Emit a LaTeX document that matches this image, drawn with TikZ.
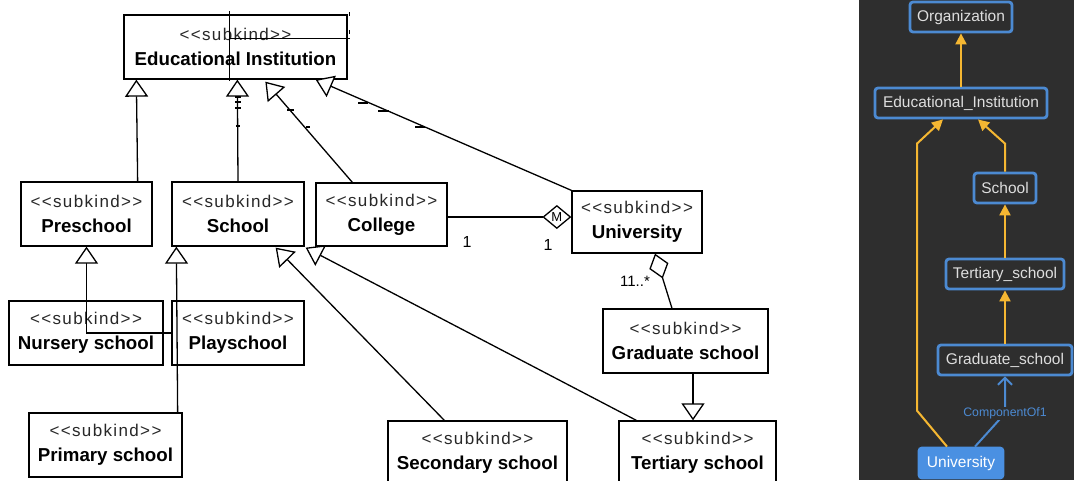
\documentclass[tikz,border=0pt]{standalone}
\usepackage{fontspec}
\setmainfont{Liberation Sans}
\newfontfamily\stereofont[LetterSpace=8]{Liberation Sans}
\usetikzlibrary{arrows.meta,calc}
\definecolor{panelbg}{RGB}{46,46,46}
\definecolor{nodeblue}{RGB}{76,138,210}
\definecolor{unifill}{RGB}{74,144,226}
\definecolor{linkyellow}{RGB}{245,183,50}
\definecolor{lighttext}{RGB}{222,222,222}
\definecolor{stereogray}{RGB}{40,40,40}
\newcommand{\umltext}[1]{{\stereofont\fontsize{17}{25}\selectfont\color{stereogray}<<subkind>>}\\{\bfseries #1}}
\begin{document}
\begin{tikzpicture}[x=1pt,y=-1pt,
  umlbox/.style={draw=black, line width=1.3pt, fill=white, inner sep=0pt, align=center,
    font=\fontsize{18.7}{25}\selectfont},
  gen/.style={line width=1.3pt, -{Triangle[fill=white, length=17pt, width=23pt]}},
  agg/.style args={#1/#2}{line width=1.3pt, -{Diamond[fill=white, length=#1, width=#2]}},
  mult/.style={font=\fontsize{16}{18}\selectfont, inner sep=0pt},
  tick/.style={line width=1.6pt},
  rbox/.style={draw=nodeblue, line width=2.8pt, rounded corners=3pt, fill=panelbg, text=lighttext,
    inner sep=0pt, font=\fontsize{15.5}{17}\selectfont, minimum height=30pt},
  ylink/.style={draw=linkyellow, line width=2pt, -{Triangle[length=11pt, width=11pt]}},
  blink/.style={draw=nodeblue, line width=2pt, -{Straight Barb[length=7pt, width=14pt, line width=2pt]}}
]
\useasboundingbox (0,0) rectangle (1074,480);
\clip (0,0) rectangle (1074,480);
\fill[white] (0,0) rectangle (859,480);
\fill[panelbg] (859,0) rectangle (1074,480);

% ---------- left UML diagram ----------
\node[umlbox, minimum width=223pt, minimum height=64pt] (ei) at (235.5,47) {\umltext{Educational Institution}};
\node[umlbox, minimum width=131pt, minimum height=64pt] (pre) at (86.5,214) {\umltext{Preschool}};
\node[umlbox, minimum width=132pt, minimum height=64pt] (sch) at (238,214) {\umltext{School}};
\node[umlbox, minimum width=131pt, minimum height=63pt] (col) at (381.5,214.5) {\umltext{College}};
\node[umlbox, minimum width=130pt, minimum height=62pt] (uni) at (637,222) {\umltext{University}};
\node[umlbox, minimum width=154pt, minimum height=64pt] (nur) at (86,333) {\umltext{Nursery school}};
\node[umlbox, minimum width=132pt, minimum height=64pt] (play) at (238,333) {\umltext{Playschool}};
\node[umlbox, minimum width=153pt, minimum height=64pt] (pri) at (105.5,445) {\umltext{Primary school}};
\node[umlbox, minimum width=165pt, minimum height=64pt] (grad) at (685.5,341) {\umltext{Graduate school}};
\node[umlbox, minimum width=179pt, minimum height=64pt] (sec) at (477.5,453) {\umltext{Secondary school}};
\node[umlbox, minimum width=157pt, minimum height=64pt] (ter) at (697.5,453) {\umltext{Tertiary school}};

% stray lines over Educational Institution
\draw[line width=1.3pt] ($(ei.north west)+(106,-3)$) -- ($(ei.south west)+(106,1)$);
\draw[line width=1.3pt] ($(ei.north west)+(106,24)$) -- ($(ei.north east)+(2,24)$);
\draw[line width=1.3pt] ($(ei.north east)+(2,-2)$) -- ($(ei.north east)+(2,2)$);
\draw[line width=1.3pt] ($(ei.north east)+(2,16)$) -- ($(ei.north east)+(2,20)$);

% generalizations
\draw[gen] ($(pre.north east)+(-15,0)$) -- ($(ei.south west)+(13,0)$);
\draw[gen] (sch.north) -- ($(ei.south west)+(114,0)$);
\draw[gen] ($(col.north west)+(37,0)$) -- ($(ei.south west)+(142,2)$);
\draw[gen] (uni.north west) -- ($(ei.south east)+(-32,0)$);
\draw[gen] (play.west) -| (pre.south);
\draw[gen] ($(pri.north east)+(-5,0)$) -- ($(sch.south west)+(5,0)$);
\draw[gen] ($(sec.north west)+(57,0)$) -- ($(sch.south east)+(-29,1)$);
\draw[gen] ($(ter.north west)+(18,0)$) -- ($(sch.south east)+(1,1)$);
\draw[gen] ($(grad.south)+(7.5,0)$) -- ($(ter.north)+(-4.5,0)$);

% small tick marks on lines
\draw[tick] (235,97) -- (241,97);
\draw[tick] (235,102) -- (241,102);
\draw[tick] (235,108) -- (241,108);
\draw[tick] (236,126) -- (240,126);
\draw[tick] (287,110) -- (294,110);
\draw[tick] (306,127) -- (310,127);
\draw[tick] (358,103) -- (368,103);
\draw[tick] (378,111) -- (389,111);
\draw[tick] (415,127) -- (425,127);

% aggregations
\draw[agg=29pt/24pt] ($(col.east)+(0,2.5)$) -- ($(uni.west)+(0,-5)$)
  node[pos=1, xshift=-14.5pt, font=\fontsize{13}{13}\selectfont, inner sep=0pt] (mlab) {M};
\draw[agg=26pt/20pt] ($(grad.north)+(-13.5,0)$) -- ($(uni.south)+(18,0)$);
\node[mult] (m1) at (467,242) {1};
\node[mult] (m2) at (548,245) {1};
\node[mult, font=\fontsize{15}{17}\selectfont] (m3) at (635,281) {11..*};

% ---------- right panel ----------
\node[rbox, minimum width=102pt] (org) at (961,17) {Organization};
\node[rbox, minimum width=172pt] (rei) at (961,103) {Educational\_Institution};
\node[rbox, minimum width=62pt] (rsch) at (1005,188) {School};
\node[rbox, minimum width=118pt] (rter) at (1005,274) {Tertiary\_school};
\node[rbox, minimum width=134pt] (rgrad) at (1005,360) {Graduate\_school};
\node[rbox, minimum width=84pt, fill=unifill, draw=unifill, text=white] (runi) at (961,463) {University};

\draw[ylink] (rei.north) -- (org.south);
\draw[ylink] (rsch.north) -- ++(0,-28) -- ($(rei.south)+(17,0)$);
\draw[ylink] (rter.north) -- (rsch.south);
\draw[ylink] (rgrad.north) -- (rter.south);
\draw[ylink] ($(runi.north)+(-14,0)$) -- ++(-30,-36) -- ++(0,-267) -- ($(rei.south)+(-18,0)$);
\draw[blink] ($(runi.north)+(14,0)$) -- ($(rgrad.south)+(0,37)$)
  node[fill=panelbg, text=nodeblue, inner sep=1pt, font=\fontsize{12.3}{13}\selectfont] (clab) {ComponentOf1}
  -- (rgrad.south);
\end{tikzpicture}
\end{document}
